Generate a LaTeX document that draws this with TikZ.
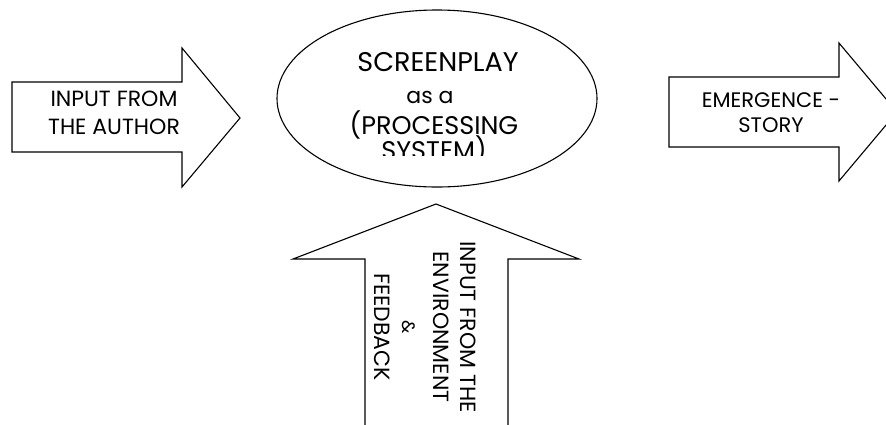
\documentclass[tikz,border=0pt]{standalone}
\usepackage{fontspec}
\setmainfont{Poppins}

\begin{document}
\begin{tikzpicture}[x=1pt,y=-1pt,line width=1.1pt,line join=miter,
  outline/.style={draw=black,fill=white},
  txt/.style={font=\fontsize{22}{28}\selectfont,align=center,inner sep=0pt},
  line/.style={inner sep=0pt,anchor=base}]
\useasboundingbox (0,0) rectangle (886,424);
\fill[white] (0,0) rectangle (886,424);

\begin{scope}
  \clip (0,0) rectangle (886,424);
  % block arrow pointing right, on the left
  \draw[outline] (12,82) -- (182,82) -- (182,48) -- (240,118) -- (182,187)
    -- (182,152) -- (12,152) -- cycle;
  % block arrow pointing right, on the right (tip runs past the edge)
  \draw[outline] (669,77) -- (839,77) -- (839,43) -- (897,112) -- (839,181)
    -- (839,147) -- (669,147) -- cycle;
  % block arrow pointing up, from below
  \draw[outline] (365,430) -- (365,259) -- (293,259) -- (436,204) -- (579,259)
    -- (508,259) -- (508,430);
  % the processing system
  \draw[outline] (437,98.5) ellipse [x radius=160,y radius=88.5];
\end{scope}

\node[txt] (author) at (114,113) {INPUT FROM\\THE AUTHOR};
\node[txt,font=\fontsize{21}{25}\selectfont] (story) at (771,113)
  {EMERGENCE -\\STORY};

% text inside the ellipse; the last line runs out of its box and is cut
\begin{scope}
  \clip (280,0) rectangle (600,155);
  \node[line,font=\fontsize{27}{30}\selectfont] (sp1) at (438,71) {SCREENPLAY};
  \node[line,font=\fontsize{22}{26}\selectfont] (sp2) at (430,103) {as a};
  \node[line,font=\fontsize{25.5}{30}\selectfont] (sp3) at (434,134) {(PROCESSING};
  \node[line,font=\fontsize{25.5}{30}\selectfont] (sp4) at (434,159) {SYSTEM)};
\end{scope}

\node[txt,rotate=-90] (env) at (425.5,327)
  {INPUT FROM THE\\[-1pt]ENVIRONMENT\\[3pt]{\fontsize{18}{27}\selectfont \&}\\FEEDBACK};
\end{tikzpicture}
\end{document}
